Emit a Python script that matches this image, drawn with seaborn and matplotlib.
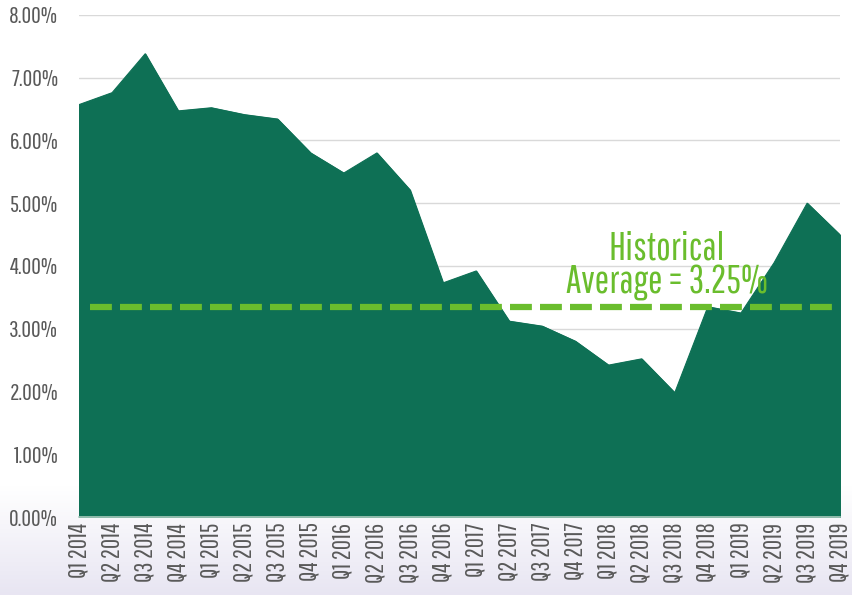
import matplotlib
matplotlib.use("Agg")
import matplotlib.pyplot as plt
import numpy as np
import pandas as pd
import seaborn as sns
from matplotlib.ticker import FuncFormatter

quarters = [
    "Q1 2014", "Q2 2014", "Q3 2014", "Q4 2014",
    "Q1 2015", "Q2 2015", "Q3 2015", "Q4 2015",
    "Q1 2016", "Q2 2016", "Q3 2016", "Q4 2016",
    "Q1 2017", "Q2 2017", "Q3 2017", "Q4 2017",
    "Q1 2018", "Q2 2018", "Q3 2018", "Q4 2018",
    "Q1 2019", "Q2 2019", "Q3 2019", "Q4 2019",
]
rates = [
    6.57, 6.76, 7.38, 6.47, 6.52, 6.41, 6.34, 5.80,
    5.48, 5.80, 5.21, 3.73, 3.92, 3.12, 3.04, 2.80,
    2.42, 2.52, 1.98, 3.35, 3.25, 4.05, 5.00, 4.49,
]
average_line = 3.35
average_label = "Historical\nAverage = 3.25%"
y_ticks = [0, 1, 2, 3, 4, 5, 6, 7, 8]

df = pd.DataFrame({"quarter": quarters, "rate": rates})
df["pos"] = range(len(df))

sns.set_theme(style="white")
plt.rcParams["font.family"] = [
    "Pathway Gothic One", "Barlow Condensed", "Roboto Condensed",
    "IBM Plex Sans Condensed", "DejaVu Sans",
]

fig = plt.figure(figsize=(8.52, 5.95), dpi=100)

# soft lavender band at the bottom of the slide
bg = fig.add_axes([0, 0, 1, 1], zorder=0)
grad = np.ones((200, 1, 3))
t = np.linspace(0, 1, 200)
mix = np.clip((t - 0.82) / 0.18, 0, 1)[:, None]
top = np.array([1.0, 1.0, 1.0])
bottom = np.array([0.91, 0.90, 0.95])
grad[:, 0, :] = top * (1 - mix) + bottom * mix
bg.imshow(grad, aspect="auto", extent=[0, 1, 1, 0])
bg.set_axis_off()

ax = fig.add_axes([0.0927, 0.131, 0.8935, 0.844], zorder=1)
ax.patch.set_alpha(0)

fill_color = "#0e7055"
green = "#6abd2d"

sns.lineplot(data=df, x="pos", y="rate", ax=ax, color=fill_color, linewidth=0.8)
ax.fill_between(df["pos"], df["rate"], 0, color=fill_color, zorder=2)

ax.axhline(average_line, xmin=0.015, xmax=0.99, color=green, linewidth=4.5,
           linestyle=(0, (3.5, 1.3)), zorder=3)
ax.text(17.75, 3.45, average_label, ha="center", va="bottom", color=green,
        fontsize=28, linespacing=0.92, zorder=4)

ax.set_xlim(0, len(df) - 1)
ax.set_ylim(0, 8)
ax.set_yticks(y_ticks)
ax.yaxis.set_major_formatter(FuncFormatter(lambda v, _: f"{v:.2f}%"))
ax.set_xticks(df["pos"])
ax.set_xticklabels(df["quarter"], rotation=90)
ax.tick_params(axis="both", length=0, colors="#595959")
ax.tick_params(axis="y", labelsize=17, pad=15)
ax.tick_params(axis="x", labelsize=18, pad=4)
ax.grid(axis="y", color="#d9d9d9", linewidth=1, zorder=0)
ax.set_axisbelow(True)
ax.set_xlabel("")
ax.set_ylabel("")
for side in ["top", "right", "left"]:
    ax.spines[side].set_visible(False)
ax.spines["bottom"].set_color("#a9c9bd")
ax.spines["bottom"].set_linewidth(1.2)

fig.savefig("out.png", dpi=100)
plt.close(fig)
